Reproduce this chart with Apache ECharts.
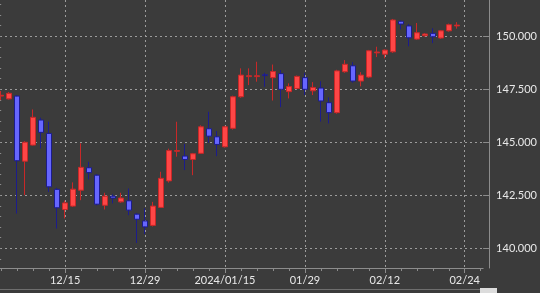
<!DOCTYPE html>
<html>
<head>
<meta charset="utf-8">
<script src="https://cdn.jsdelivr.net/npm/echarts@6/dist/echarts.min.js"></script>
<style>
html,body{margin:0;padding:0;background:#3b3b3b;}
#chart{width:540px;height:293px;}
</style>
</head>
<body>
<div id="chart"></div>
<script>
// candle dates (trading days)
const dates = ['12/05','12/06','12/07','12/08','12/11','12/12','12/13','12/14','12/15','12/18',
  '12/19','12/20','12/21','12/22','12/25','12/26','12/27','12/28','12/29','01/02',
  '01/03','01/04','01/05','01/08','01/09','01/10','01/11','01/12','01/15','01/16',
  '01/17','01/18','01/19','01/22','01/23','01/24','01/25','01/26','01/29','01/30',
  '01/31','02/01','02/02','02/05','02/06','02/07','02/08','02/09','02/12','02/13',
  '02/14','02/15','02/16','02/19','02/20','02/21','02/22','02/23'];
const opens  = [147.18,147.05,147.18,144.11,144.87,146.05,145.42,142.78,141.83,141.99,
  142.74,143.80,143.45,142.03,142.46,142.19,142.24,141.61,141.29,141.08,
  141.93,143.18,144.58,144.35,144.19,144.48,145.64,145.26,144.79,145.66,
  147.15,148.10,148.10,148.19,148.05,148.24,147.39,147.54,148.05,147.43,
  147.56,146.87,146.40,148.33,148.61,147.89,148.08,149.22,149.16,149.27,
  150.71,150.49,149.87,150.03,150.14,149.92,150.26,150.49];
const closes = [147.22,147.31,144.13,145.00,146.18,145.47,142.90,141.91,142.14,142.79,
  143.82,143.57,142.08,142.46,142.37,142.37,141.80,141.37,141.01,141.99,
  143.30,144.61,144.61,144.19,144.46,145.73,145.29,144.90,145.73,147.15,
  148.17,148.14,148.14,148.15,148.34,147.50,147.63,148.11,147.50,147.59,
  146.95,146.40,148.37,148.68,147.89,148.17,149.32,149.26,149.35,150.77,
  150.58,149.93,150.17,150.11,149.98,150.26,150.55,150.53];
const lows   = [146.99,147.02,141.64,142.51,144.85,144.71,142.66,140.93,141.41,141.95,
  142.27,143.25,142.02,141.83,142.12,142.15,141.56,140.25,140.67,141.03,
  141.90,143.10,144.32,143.69,143.45,144.45,144.98,144.35,144.75,145.60,
  147.10,147.70,147.86,147.62,146.97,146.66,147.07,147.50,147.23,147.23,
  145.98,145.89,146.35,148.28,147.81,147.64,148.03,149.02,148.96,149.22,
  150.33,149.53,149.83,149.98,149.68,149.88,150.22,150.36];
const highs  = [147.42,147.37,147.23,145.05,146.55,146.16,145.97,142.85,142.25,143.11,
  144.95,144.08,143.50,142.62,142.55,142.62,142.82,141.66,141.89,142.19,
  143.61,144.70,145.97,144.92,144.50,145.80,146.44,145.53,145.78,147.20,
  148.49,148.49,148.80,148.28,148.67,148.41,147.78,148.15,148.28,147.84,
  147.88,147.12,148.42,148.88,148.78,148.31,149.36,149.51,149.38,150.82,
  150.75,150.58,150.63,150.15,150.38,150.30,150.60,150.67];

// x-axis tick labels (slot index -> text)
const labelIdx  = [8, 18, 28, 38, 48, 58];
const labelText = ['12/15', '12/29', '2024/01/15', '01/29', '02/12', '02/24'];
const minorIdx  = [];
for (let i = 0; i <= 60; i += 2) minorIdx.push(i);

// y-axis ticks
const yMajor = [140, 142.5, 145, 147.5, 150];
const yMinor = [];
for (let v = 139.5; v <= 151.5; v += 0.5) yMinor.push(v);

const candleData = dates.map((d, i) => [i, opens[i], closes[i], lows[i], highs[i]]);

const X_MIN = -0.148, X_MAX = 60.30;
const Y_MIN = 139.07, Y_MAX = 151.714;
const gridColor = '#9c9c9c';
const axisColor = '#8c8c8c';
const textColor = '#e8e8e8';
const font = 'Lato, "Open Sans", sans-serif';

const chart = echarts.init(document.getElementById('chart'), null, {renderer: 'canvas'});
chart.setOption({
  animation: false,
  backgroundColor: '#3b3b3b',
  grid: {left: 0, top: 0, right: 49, bottom: 25, containLabel: false},
  xAxis: [
    {
      type: 'value', min: X_MIN, max: X_MAX, position: 'bottom',
      axisLine: {show: true, onZero: false, lineStyle: {color: axisColor, width: 1}},
      axisTick: {show: true, customValues: labelIdx, length: 5, lineStyle: {color: axisColor}},
      axisLabel: {
        show: true, customValues: labelIdx, margin: 7,
        color: textColor, fontFamily: font, fontSize: 11,
        formatter: function (v) { const k = labelIdx.indexOf(Math.round(v)); return k >= 0 ? labelText[k] : ''; }
      },
      splitLine: {show: true, lineStyle: {color: gridColor, type: [2, 3], width: 1}}
    },
    {
      type: 'value', min: X_MIN, max: X_MAX, position: 'bottom',
      axisLine: {show: false},
      axisTick: {show: true, customValues: minorIdx, length: 3, lineStyle: {color: axisColor}},
      axisLabel: {show: false},
      splitLine: {show: false}
    }
  ],
  yAxis: [
    {
      type: 'value', min: Y_MIN, max: Y_MAX, position: 'right', offset: 6,
      axisLine: {show: true, onZero: false, lineStyle: {color: axisColor, width: 1}},
      axisTick: {show: true, inside: true, customValues: yMajor, length: 6, lineStyle: {color: axisColor}},
      axisLabel: {
        show: true, customValues: yMajor, margin: 7,
        color: textColor, fontFamily: font, fontSize: 11,
        formatter: function (v) { return v.toFixed(3); }
      },
      splitLine: {show: true, lineStyle: {color: gridColor, type: [2, 3], width: 1}}
    },
    {
      type: 'value', min: Y_MIN, max: Y_MAX, position: 'right', offset: 6,
      axisLine: {show: false},
      axisTick: {show: true, inside: true, customValues: yMinor, length: 3.5, lineStyle: {color: axisColor}},
      axisLabel: {show: false},
      splitLine: {show: false}
    }
  ],
  series: [{
    type: 'candlestick',
    xAxisIndex: 0, yAxisIndex: 0,
    encode: {x: 0, y: [1, 2, 3, 4]},
    data: candleData,
    barWidth: 5.5,
    itemStyle: {
      color: '#ff4646', color0: '#6666ff',
      borderColor: '#c82828', borderColor0: '#1c1c8c',
      borderWidth: 1
    }
  }],
  graphic: [
    {type: 'rect', left: 0, top: 289, shape: {width: 497, height: 1}, style: {fill: '#6e6e6e'}, silent: true},
    {type: 'rect', left: 480, top: 288, shape: {width: 17, height: 5}, style: {fill: '#dcdcdc'}, silent: true}
  ]
});
</script>
</body>
</html>
